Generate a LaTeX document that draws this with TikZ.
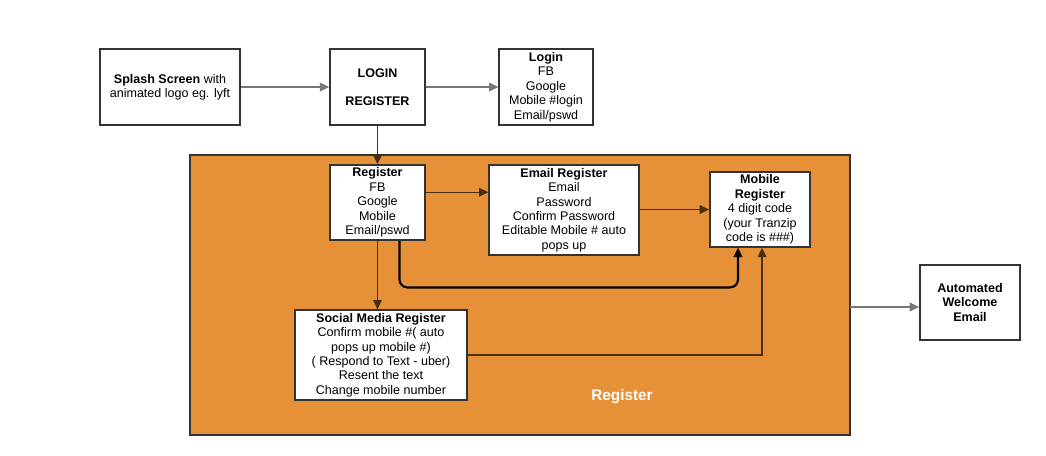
\documentclass[tikz,border=0pt]{standalone}
\usepackage{fontspec}
\setmainfont{Liberation Sans}
\usepackage[HTML]{xcolor}
\usetikzlibrary{positioning, arrows, arrows.meta}
\definecolor{regorange}{HTML}{E69138}
\definecolor{boxline}{HTML}{333333}
\definecolor{lightarrow}{HTML}{777777}
\definecolor{darkarrow}{HTML}{4A2E12}
\tikzset{
screen/.style={draw=boxline,line width=1.4pt,fill=white,align=center,inner sep=1pt,font=\fontsize{9.4}{10.8}\selectfont},
flow/.style={-{Triangle[length=7pt,width=6.5pt]},line width=1pt},
}
\begin{document}
\begin{tikzpicture}[x=0.75pt,y=-0.75pt]
\useasboundingbox (0,0) rectangle (1046,455);
\fill[regorange] (190,155) rectangle (850,435);
\draw[boxline,line width=1.4pt] (190,155) rectangle (850,435);
\node[white,font=\bfseries\fontsize{11.5}{13}\selectfont] (reglabel) at (622,397) {Register};

\node[screen,minimum width=105pt,minimum height=57pt] (splash) at (170,87) {\textbf{Splash Screen} with\\animated logo eg. lyft};
\node[screen,minimum width=71pt,minimum height=57pt] (loginreg) at (377.5,87) {\textbf{LOGIN}\\[10pt]\textbf{REGISTER}};
\node[screen,minimum width=70pt,minimum height=57pt] (login) at (546,87) {\textbf{Login}\\FB\\Google\\Mobile \#login\\Email/pswd};
\node[screen,minimum width=71pt,minimum height=56pt] (register) at (377.5,202.5) {\textbf{Register}\\FB\\Google\\Mobile\\Email/pswd};
\node[screen,minimum width=112pt,minimum height=67pt] (emailreg) at (564,210) {\textbf{Email Register}\\Email\\Password\\Confirm Password\\Editable Mobile \# auto\\pops up};
\node[screen,minimum width=75pt,minimum height=56pt] (mobilereg) at (760,209.5) {\textbf{Mobile}\\\textbf{Register}\\4 digit code\\(your Tranzip\\code is \#\#\#)};
\node[screen,minimum width=129pt,minimum height=67pt] (socialreg) at (381,355) {\textbf{Social Media Register}\\Confirm mobile \#( auto\\pops up mobile \#)\\( Respond to Text - uber)\\Resent the text\\Change mobile number};
\node[screen,minimum width=75pt,minimum height=56pt] (welcome) at (970,302.5) {\textbf{Automated}\\\textbf{Welcome}\\\textbf{Email}};

\coordinate (regright) at (850,307);
\draw[flow,lightarrow] (splash.east) -- (loginreg.west);
\draw[flow,lightarrow] (loginreg.east) -- (login.west);
\draw[flow,darkarrow] (loginreg.south) -- (register.north);
\draw[flow,darkarrow] ([yshift=-21pt]register.north east) -- ([yshift=-21pt]register.north east -| emailreg.west);
\draw[flow,darkarrow] (emailreg.east |- mobilereg.west) -- (mobilereg.west);
\draw[flow,darkarrow] (register.south) -- (socialreg.north -| register.south);
\draw[flow,black,line width=1.6pt,rounded corners=6pt] ([xshift=16.5pt]register.south) -- ++(0,-35pt) -| ([xshift=-16.5pt]mobilereg.south);
\draw[flow,darkarrow] (socialreg.east) -| ([xshift=1.5pt]mobilereg.south);
\draw[flow,lightarrow] (regright) -- (regright -| welcome.west);
\end{tikzpicture}
\end{document}
